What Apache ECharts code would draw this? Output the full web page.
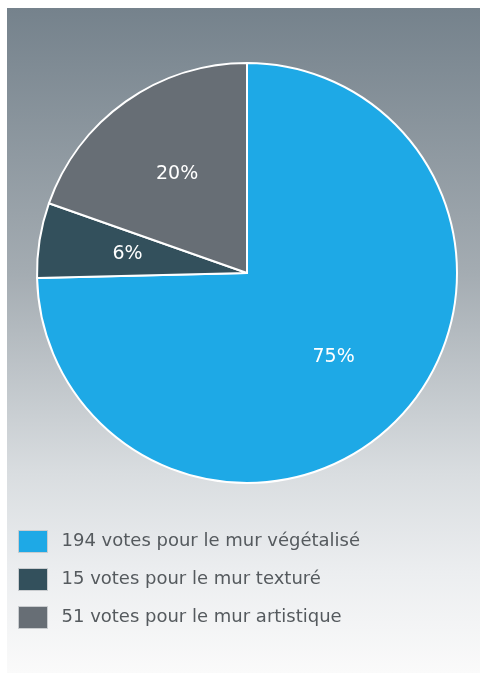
<!DOCTYPE html>
<html>
<head>
<meta charset="utf-8">
<script src="https://cdn.jsdelivr.net/npm/echarts@6/dist/echarts.min.js"></script>
<style>
html,body{margin:0;padding:0;background:#ffffff;}
#chart{width:480px;height:673px;}
</style>
</head>
<body>
<div id="chart"></div>
<script>
const categories = ['194 votes pour le mur végétalisé', '15 votes pour le mur texturé', '51 votes pour le mur artistique'];
const votes = [194, 15, 51];
const sliceColors = ['#1ea9e6', '#33505c', '#676e75'];

const chart = echarts.init(document.getElementById('chart'), null, {renderer: 'canvas'});
const pieData = categories.map((c, i) => ({name: c, value: votes[i], itemStyle: {color: sliceColors[i]}}));
const labelData = categories.map((c, i) => ({name: c, value: votes[i], itemStyle: {color: 'rgba(0,0,0,0)'}}));

chart.setOption({
  animation: false,
  graphic: [{
    type: 'rect', z: -10, silent: true,
    shape: {x: 7, y: 8, width: 473, height: 665},
    style: {
      fill: new echarts.graphic.LinearGradient(0, 0, 0, 1, [
        {offset: 0, color: '#75828c'},
        {offset: 0.4, color: '#a4acb2'},
        {offset: 0.7, color: '#d9dde0'},
        {offset: 0.85, color: '#eceef0'},
        {offset: 1, color: '#fafafa'}
      ])
    }
  }],
  legend: {
    orient: 'vertical',
    left: 13,
    top: 525,
    itemWidth: 29,
    itemHeight: 22,
    itemGap: 15,
    icon: 'rect',
    selectedMode: false,
    data: categories.map((c, i) => ({name: c, itemStyle: {color: sliceColors[i], borderColor: '#c9cccf', borderWidth: 1}})),
    textStyle: {fontFamily: 'DejaVu Sans', fontSize: 18, color: '#555a5e', padding: [0, 0, 0, 9]}
  },
  series: [{
    type: 'pie',
    center: [247, 273],
    radius: [0, 210],
    startAngle: 90,
    clockwise: true,
    silent: true,
    data: pieData,
    itemStyle: {borderColor: '#ffffff', borderWidth: 2},
    label: {show: false},
    labelLine: {show: false}
  }, {
    type: 'pie',
    center: [247, 273],
    radius: [0, 236],
    startAngle: 90,
    clockwise: true,
    silent: true,
    z: 5,
    data: labelData,
    itemStyle: {borderWidth: 0},
    label: {
      show: true,
      position: 'inside',
      color: '#ffffff',
      fontFamily: 'DejaVu Sans',
      fontSize: 19,
      formatter: p => Math.round(p.percent) + '%'
    },
    labelLine: {show: false}
  }]
});
</script>
</body>
</html>
